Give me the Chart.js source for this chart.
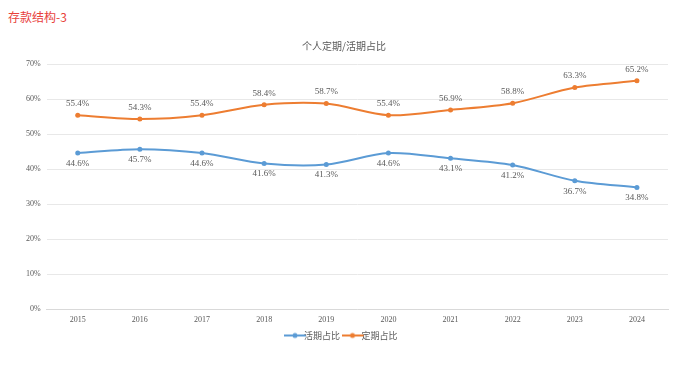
<!DOCTYPE html>
<html>
<head>
<meta charset="utf-8">
<script src="https://cdn.jsdelivr.net/npm/chart.js@4.4.1/dist/chart.umd.min.js"></script>
<style>
  html, body { margin: 0; padding: 0; background: #fff; }
  #wrap { position: relative; width: 692px; height: 390px; }
  #tag { position: absolute; left: 8px; top: 8px; color: #e8413b; font: 400 12px "Noto Sans CJK SC", serif; }
  canvas { position: absolute; left: 0; top: 0; }
</style>
</head>
<body>
<div id="wrap">
  <div id="tag">存款结构-3</div>
  <canvas id="c" width="692" height="390"></canvas>
</div>
<script>
const years = ['2015', '2016', '2017', '2018', '2019', '2020', '2021', '2022', '2023', '2024'];
const demandShare = [44.6, 45.7, 44.6, 41.6, 41.3, 44.6, 43.1, 41.2, 36.7, 34.8];
const timeShare = [55.4, 54.3, 55.4, 58.4, 58.7, 55.4, 56.9, 58.8, 63.3, 65.2];
const yTicks = [0, 10, 20, 30, 40, 50, 60, 70];

const BLUE = '#5b9bd5';
const ORANGE = '#ed7d31';
const labelFont = '9px "Liberation Serif", "Noto Sans CJK SC", serif';

// little line-with-dot icon for legend
function legendIcon(color) {
  const cv = document.createElement('canvas');
  cv.width = 22; cv.height = 8;
  const g = cv.getContext('2d');
  g.strokeStyle = color; g.lineWidth = 2;
  g.beginPath(); g.moveTo(0, 4); g.lineTo(22, 4); g.stroke();
  g.fillStyle = color;
  g.beginPath(); g.arc(11, 4, 2.5, 0, Math.PI * 2); g.fill();
  return cv;
}

// value labels: orange above, blue below
const valueLabels = {
  id: 'valueLabels',
  afterDatasetsDraw(chart) {
    const ctx = chart.ctx;
    ctx.save();
    ctx.font = labelFont;
    ctx.fillStyle = '#595959';
    ctx.textAlign = 'center';
    chart.data.datasets.forEach((ds, i) => {
      const meta = chart.getDatasetMeta(i);
      meta.data.forEach((pt, j) => {
        const txt = ds.data[j].toFixed(1) + '%';
        if (ds.labelPos === 'top') {
          ctx.textBaseline = 'bottom';
          ctx.fillText(txt, pt.x, pt.y - 7);
        } else {
          ctx.textBaseline = 'top';
          ctx.fillText(txt, pt.x, pt.y + 6);
        }
      });
    });
    ctx.restore();
  }
};

// pull the legend a bit closer to the axis
const legendNudge = {
  id: 'legendNudge',
  afterLayout(chart) {
    const lg = chart.legend;
    if (lg) { lg.top -= 8; lg.bottom -= 8; }
  }
};

new Chart(document.getElementById('c'), {
  type: 'line',
  data: {
    labels: years,
    datasets: [
      { label: '活期占比', data: demandShare, borderColor: BLUE, backgroundColor: BLUE, labelPos: 'bottom' },
      { label: '定期占比', data: timeShare, borderColor: ORANGE, backgroundColor: ORANGE, labelPos: 'top' }
    ]
  },
  options: {
    responsive: false,
    animation: false,
    devicePixelRatio: 1,
    layout: { padding: { left: 20, right: 24, top: 14, bottom: 32 } },
    elements: {
      line: { borderWidth: 2, tension: 0.3 },
      point: { radius: 2.5, pointStyle: 'circle', borderWidth: 0 }
    },
    scales: {
      x: {
        offset: true,
        grid: { display: false, drawTicks: false },
        border: { color: '#d9d9d9' },
        ticks: { color: '#595959', font: { size: 8, family: '"Liberation Serif", serif' }, padding: 6 }
      },
      y: {
        min: 0, max: 70,
        afterBuildTicks: s => { s.ticks = yTicks.map(v => ({ value: v })); },
        grid: { color: '#e8e8e8', drawTicks: false },
        border: { display: false },
        ticks: { color: '#595959', font: { size: 8, family: '"Liberation Serif", serif' }, padding: 6,
          callback: v => v + '%' }
      }
    },
    plugins: {
      title: {
        display: true, text: '个人定期/活期占比', color: '#595959',
        font: { size: 10, weight: 'normal', family: '"Noto Sans CJK SC", serif' },
        padding: { top: 26, bottom: 12 }
      },
      legend: {
        position: 'bottom',
        labels: {
          color: '#595959', usePointStyle: true, boxWidth: 22, padding: 8,
          font: { size: 9, family: '"Noto Sans CJK SC", serif' },
          generateLabels: chart => chart.data.datasets.map((ds, i) => ({
            text: ds.label, pointStyle: legendIcon(ds.borderColor), fontColor: '#595959',
            datasetIndex: i, hidden: false, lineWidth: 0
          }))
        }
      },
      tooltip: { enabled: false }
    }
  },
  plugins: [valueLabels, legendNudge]
});
</script>
</body>
</html>
